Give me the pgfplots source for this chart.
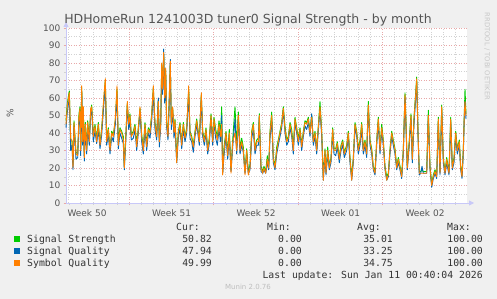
\documentclass[border=0pt]{standalone}
\usepackage{fontspec}
\setmainfont{DejaVu Sans}
\newfontfamily\monofont{DejaVu Sans Mono}
\usepackage{pgfplots}
\pgfplotsset{compat=1.18}
\usepackage{pgfplotstable}
\usetikzlibrary{arrows.meta}

\definecolor{bg}{HTML}{F0F0F0}
\definecolor{ssc}{HTML}{00CC00}
\definecolor{sqc}{HTML}{0066B3}
\definecolor{syc}{HTML}{FF8000}
\definecolor{txt}{HTML}{555555}
\definecolor{ltxt}{HTML}{333333}
\definecolor{majg}{HTML}{E8A8A8}
\definecolor{ming}{HTML}{D2D2D2}
\definecolor{axc}{HTML}{C8C8F8}

\pgfplotstableread{
x ss sq sym
0 47 43 45
1.3 57 52 55
3.3 64 60 63
4.7 36 30 37
6 36 33 35
7 22 19 20
8 47 44 46
10 29 25 28
11.7 28 26 27
13 51 47 50
14 55 52 54
14.7 31 27 30
15.7 66 64 67
16.7 36 33 35
17.3 54 52 55
18.3 27 24 26
19.3 46 42 45
20.7 31 28 30
21.7 47 43 46
23.3 36 33 35
24.7 53 52 54
25.7 56 53 55
27.3 39 35 38
29 45 41 44
30.7 37 34 35
32.3 46 42 45
34 34 31 33
35.7 43 39 42
38 60 58 62
39.3 70 66 71
40.7 37 33 35
42.3 43 39 42
44 31 28 30
45.7 41 38 40
47.3 39 35 38
49.3 47 45 48
51 65 62 67
52.3 35 31 33
54 43 40 42
55.7 41 37 40
57.3 38 34 36
58.3 21 19 20
60 41 38 40
61.3 57 55 58
62.7 46 42 45
64 51 47 50
65.3 39 36 38
67.3 41 37 40
69 45 42 44
70.7 34 30 32
72.3 43 40 42
74 54 52 55
75.7 39 35 38
77.3 32 28 30
79 46 42 45
80.7 33 30 32
82.3 43 40 42
84 41 37 40
85.7 51 47 50
87.3 66 63 67
89 46 42 45
90.7 39 36 38
92.3 59 60 58
93.3 37 32 35
94.7 46 43 45
95.7 79 76 80
96.7 66 62 65
97.7 85 88 86
98.7 61 57 60
99.7 76 73 77
100.7 46 43 45
102 39 36 38
103.3 61 57 60
104.3 80 82 81
105.3 46 42 45
106.7 54 52 55
108 41 37 40
109 48 44 47
110.7 25 23 23
112.3 41 37 40
114 46 43 45
115.7 34 31 33
117.3 46 42 45
119 38 35 37
120.7 43 40 42
122.7 65 62 67
124 41 37 40
125.7 38 35 37
127.3 33 29 32
129 41 38 40
130.7 48 45 47
133.3 36 33 35
135.3 62 60 63
136.7 41 38 40
138.3 36 33 35
140 43 40 42
141.7 31 28 30
143.3 37 34 36
145 51 48 50
146.7 36 33 35
148 49 46 48
149.7 42 37 40
151.3 38 33 36
153 47 42 45
154.5 40 35 38
155.7 55 50 45
156.7 18 17 16
158 32 27 30
160 41 38 40
161.7 29 25 27
163.3 42 38 40
165 19 18 17
166.7 36 32 35
169 55 48 40
170.7 32 28 30
172.3 52 48 50
174 32 28 30
175.7 37 33 35
177.3 32 29 30
179 18 17 16
180.7 31 28 30
182.3 18 17 16
184 22 19 20
185.7 41 37 40
187.3 46 42 45
189 31 28 30
190.7 36 33 35
192.3 37 33 35
193.3 51 49 50
195 21 18 20
196.7 18 17 17
198 21 19 20
199.7 18 17 17
201.3 27 23 25
202.7 21 19 20
204 41 37 40
205.7 52 48 50
207.3 26 23 25
209 21 19 20
210.7 32 28 30
212.3 36 33 35
214 41 38 40
215.7 46 43 45
217.3 55 53 54
219 44 40 42
220.7 36 33 35
222.3 38 35 37
224 46 43 45
225.7 42 38 40
227.3 32 28 30
229 49 46 48
230.7 43 40 42
232.3 37 33 35
234 43 40 42
235.7 33 30 32
237.3 41 38 40
239 47 44 46
240.7 46 42 45
242.3 49 46 48
244 41 38 40
245.7 50 51 49
247.3 36 33 35
249 41 38 40
250.7 31 28 30
252.3 44 41 43
254 58 53 55
255.7 41 38 40
257.3 15 13 13
259 31 28 30
260 18 16 17
261.7 32 28 30
263.3 21 19 20
265 26 23 25
266.7 43 40 42
268 31 28 30
269.7 31 27 30
271.3 35 32 34
273.3 26 23 25
275 33 30 32
276.7 36 33 35
278.3 29 26 28
280.7 33 30 32
282.3 41 38 40
284 26 23 25
285.7 15 13 13
287.3 26 23 25
289 46 43 45
290.7 41 38 40
292.3 31 28 30
294 36 33 35
295.7 46 42 45
297.3 31 28 30
299 36 33 35
300.7 29 26 28
302.3 58 54 56
304 36 33 35
305.7 31 28 30
307.3 21 19 20
309 18 16 17
310.7 36 33 35
312.3 49 46 48
314 31 28 30
315.7 45 41 43
317.3 36 33 35
319 21 19 20
320.7 15 13 13
322.3 17 15 16
324 31 28 30
325.7 41 38 40
327.3 36 33 35
329 31 28 30
330.7 21 19 20
332.3 26 23 25
334 21 19 20
335.7 16 14 15
337.3 31 28 30
339 63 60 62
340 46 43 45
341.3 21 19 20
343.3 36 33 35
345 51 48 50
346.3 26 23 25
348 49 45 48
349.7 63 60 62
350.7 72 69 71
352 41 38 40
353.3 18 16 17
354.7 18 17 17
356 19 21 17
357.3 18 17 17
359 18 17 17
360.7 18 17 17
362.3 53 49 50
364 21 19 20
365.7 11 9 10
367.3 16 14 15
369 19 17 18
370.7 16 14 15
372.3 49 46 48
374 18 16 17
375.7 56 53 55
377.3 26 23 25
379 18 16 17
380.7 26 23 25
383 18 16 17
384.7 49 46 48
386.3 21 19 20
388 26 23 25
389.7 41 38 40
391.3 31 28 30
393.3 36 33 35
394.7 21 19 20
396 16 14 15
397.3 31 28 30
398.3 51 49 50
399 65 58 58
400 50.82 47.94 49.99
}\datatable

\newcommand{\lf}{\monofont\fontsize{9.8}{10}\selectfont}

\begin{document}
\begin{tikzpicture}[x=1pt,y=1pt]
\fill[bg] (0,0) rectangle (497,299);
\useasboundingbox (0,0) rectangle (497,299);
\begin{axis}[
  at={(66pt,96pt)}, anchor=south west,
  scale only axis, width=401pt, height=175pt,
  xmin=0, xmax=401, ymin=0, ymax=100,
  axis background/.style={fill=white},
  axis lines=left,
  axis line style={draw=axc, line width=0.8pt},
  x axis line style={-{Triangle[length=5pt,width=5pt]}, shorten >=-7pt},
  y axis line style={-{Triangle[length=5pt,width=5pt]}, shorten >=-6pt},
  /pgf/number format/assume math mode=true,
  ticklabel style={font=\fontsize{9}{9}\selectfont, text=txt},
  xtick={63,147.5,232,316.5}, xticklabels={},
  minor xtick={2.6,14.7,26.8,38.9,50.9,75.1,87.1,99.2,111.3,123.4,135.4,159.6,171.6,183.7,195.8,207.9,219.9,244.1,256.1,268.2,280.3,292.4,304.4,328.6,340.6,352.7,364.8,376.9,388.9},
  extra x ticks={21,105.5,190,274.5,359},
  extra x tick labels={Week 50,Week 51,Week 52,Week 01,Week 02},
  extra x tick style={grid=none, major tick length=0pt, xticklabel style={inner sep=0pt, anchor=north, yshift=-6pt}},
  ytick={0,10,...,100},
  minor ytick={5,15,...,95},
  yticklabel style={inner sep=0pt, anchor=east, xshift=-3pt},
  grid=both,
  major grid style={draw=majg, dash pattern=on 1pt off 1.5pt, line width=0.6pt},
  minor grid style={draw=ming, dash pattern=on 1pt off 1.5pt, line width=0.6pt},
  tick align=outside,
  major tick length=2.5pt, minor tick length=2pt,
  major tick style={draw=majg},
  minor tick style={draw=ming},
  clip=false,
]
\addplot[ssc, line width=0.9pt, line join=round] table[x=x,y=ss]{\datatable};
\addplot[sqc, line width=0.9pt, line join=round] table[x=x,y=sq]{\datatable};
\addplot[syc, line width=0.9pt, line join=round] table[x=x,y=sym]{\datatable};
\end{axis}
% title
\node[anchor=base, inner sep=0, text=txt, font=\fontsize{12.5}{12.5}\selectfont] at (248,275.5) {HDHomeRun 1241003D tuner0 Signal Strength - by month};
% y label
\node[rotate=90, inner sep=0, text=txt, font=\fontsize{9}{9}\selectfont] at (10,186) {\%};
% side text
\node[rotate=-90, inner sep=0, text={rgb,255:red,200;green,200;blue,200}, font=\fontsize{6.8}{6.8}\selectfont] at (487,242.5) {RRDTOOL / TOBI OETIKER};
% legend header
\node[anchor=base west, inner sep=0, text=ltxt] at (176,68) {\lf Cur:};
\node[anchor=base west, inner sep=0, text=ltxt] at (267,68) {\lf Min:};
\node[anchor=base west, inner sep=0, text=ltxt] at (357,68) {\lf Avg:};
\node[anchor=base west, inner sep=0, text=ltxt] at (447,68) {\lf Max:};
% rows
\fill[ssc] (14,57) rectangle (19.5,62.5);
\fill[sqc] (14,45) rectangle (19.5,50.5);
\fill[syc] (14,33) rectangle (19.5,38.5);
\node[anchor=base west, inner sep=0, text=ltxt] at (27,56) {\lf Signal Strength};
\node[anchor=base west, inner sep=0, text=ltxt] at (27,44) {\lf Signal Quality};
\node[anchor=base west, inner sep=0, text=ltxt] at (27,32) {\lf Symbol Quality};
\node[anchor=base east, inner sep=0, text=ltxt] at (212,56) {\lf 50.82};
\node[anchor=base east, inner sep=0, text=ltxt] at (302,56) {\lf 0.00};
\node[anchor=base east, inner sep=0, text=ltxt] at (393,56) {\lf 35.01};
\node[anchor=base east, inner sep=0, text=ltxt] at (483,56) {\lf 100.00};
\node[anchor=base east, inner sep=0, text=ltxt] at (212,44) {\lf 47.94};
\node[anchor=base east, inner sep=0, text=ltxt] at (302,44) {\lf 0.00};
\node[anchor=base east, inner sep=0, text=ltxt] at (393,44) {\lf 33.25};
\node[anchor=base east, inner sep=0, text=ltxt] at (483,44) {\lf 100.00};
\node[anchor=base east, inner sep=0, text=ltxt] at (212,32) {\lf 49.99};
\node[anchor=base east, inner sep=0, text=ltxt] at (302,32) {\lf 0.00};
\node[anchor=base east, inner sep=0, text=ltxt] at (393,32) {\lf 34.75};
\node[anchor=base east, inner sep=0, text=ltxt] at (483,32) {\lf 100.00};
\node[anchor=base east, inner sep=0, text=ltxt] at (483,20) {\lf Last update: Sun Jan 11 00:40:04 2026};
\node[anchor=base, inner sep=0, text={rgb,255:red,190;green,190;blue,190}, font=\fontsize{7}{7}\selectfont] at (248,9) {Munin 2.0.76};
\end{tikzpicture}
\end{document}
